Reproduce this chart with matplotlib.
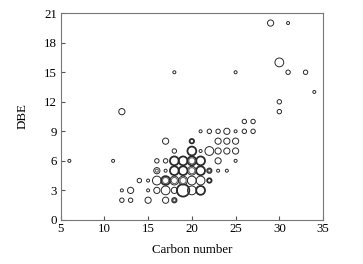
import matplotlib
matplotlib.use("Agg")
import matplotlib.pyplot as plt

plt.rcParams["font.family"] = ["Liberation Serif", "DejaVu Serif"]

# carbon number, DBE, bubble class (1 tiny .. 5 very large), line weight (0 thin, 1 bold)
carbon = [6, 11, 12, 18, 25, 29, 31, 30, 31, 33, 34, 30, 30, 26, 27,
          12, 13, 12, 13, 14, 15, 15, 15,
          16, 16, 16, 16,
          17, 17, 17, 17, 17, 17,
          18, 18, 18, 18, 18, 18,
          19, 19, 19, 19,
          20, 20, 20, 20, 20, 20,
          21, 21, 21, 21, 21, 21,
          22, 22, 22, 22,
          23, 23, 23, 23, 23,
          24, 24, 24, 24,
          25, 25, 25, 25,
          26, 27]
dbe = [6, 6, 11, 15, 15, 20, 20, 16, 15, 15, 13, 12, 11, 10, 10,
       3, 3, 2, 2, 4, 4, 3, 2,
       6, 5, 4, 3,
       8, 6, 5, 4, 3, 2,
       7, 6, 5, 4, 3, 2,
       6, 5, 4, 3,
       8, 7, 6, 5, 4, 3,
       9, 7, 6, 5, 4, 3,
       9, 7, 5, 4,
       9, 8, 7, 6, 5,
       9, 8, 7, 5,
       9, 8, 7, 6,
       9, 9]
size = [1, 1, 3, 1, 1, 3, 1, 4, 2, 2, 1, 2, 2, 2, 2,
        1, 3, 2, 2, 2, 1, 1, 3,
        2, 3, 4, 3,
        3, 2, 1, 4, 4, 3,
        2, 4, 4, 4, 3, 2,
        4, 4, 4, 5,
        2, 4, 4, 4, 4, 4,
        1, 1, 4, 4, 4, 4,
        2, 4, 2, 2,
        2, 3, 3, 3, 1,
        3, 3, 3, 1,
        1, 3, 3, 1,
        2, 2]
weight = [0, 0, 0, 0, 0, 0, 0, 0, 0, 0, 0, 0, 0, 0, 0,
          0, 0, 0, 0, 0, 0, 0, 0,
          0, 0, 0, 0,
          0, 0, 0, 1, 0, 0,
          0, 1, 1, 0, 0, 1,
          1, 1, 0, 1,
          1, 1, 1, 0, 0, 0,
          0, 0, 1, 1, 0, 1,
          0, 0, 1, 1,
          0, 0, 0, 0, 0,
          0, 0, 0, 0,
          0, 0, 0, 0,
          0, 0]

# overlapping inner circles (several classes at same C/DBE)
inner_carbon = [16, 17, 18, 19, 20, 20, 18, 22]
inner_dbe = [5, 4, 4, 4, 6, 5, 2, 5]
inner_size = [1, 3, 3, 3, 3, 3, 1, 1]

RADIUS = {1: 1.5, 2: 2.2, 3: 3.1, 4: 4.4, 5: 6.2}  # px at 100 dpi


def marker_area(cls):
    d = 2 * RADIUS[cls] * 0.72
    return d * d


fig = plt.figure(figsize=(3.63, 2.64), dpi=100)
ax = fig.add_axes([0.167, 0.167, 0.723, 0.783])

edge = "#2a2a2a"
for c, d, s, w in zip(carbon, dbe, size, weight):
    ax.scatter(c, d, s=marker_area(s), facecolors="none", edgecolors=edge,
               linewidths=1.3 if w else 0.7, zorder=3)
for c, d, s in zip(inner_carbon, inner_dbe, inner_size):
    ax.scatter(c, d, s=marker_area(s), facecolors="none", edgecolors="#666666",
               linewidths=0.8, zorder=3)

ax.set_xlim(5, 35)
ax.set_ylim(0, 21)
ax.set_xticks(range(5, 36, 5))
ax.set_yticks(range(0, 22, 3))
ax.tick_params(direction="in", length=3, width=0.8, colors="#555555",
               labelcolor="black", labelsize=9.3, pad=2.5)
for spine in ax.spines.values():
    spine.set_color("#777777")
    spine.set_linewidth(0.8)

ax.set_xlabel("Carbon number", fontsize=9.3, labelpad=6)
ax.set_ylabel("DBE", fontsize=9.3, labelpad=11)

fig.savefig("out.png", dpi=100)
